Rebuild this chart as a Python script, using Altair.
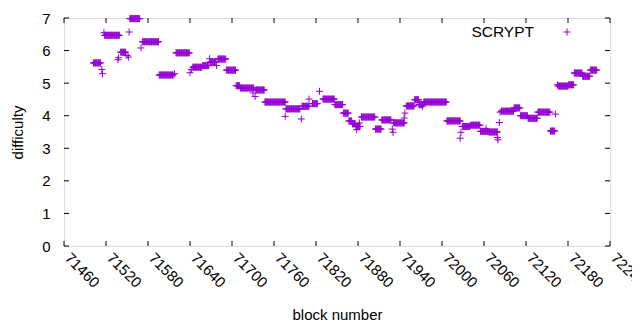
import altair as alt
import pandas as pd

# runs of constant difficulty: first block, last block, difficulty
run_start = [71502, 71518, 71541, 71554, 71572, 71596, 71620, 71644, 71658, 71669,
             71680, 71692, 71706, 71712, 71734, 71747, 71777, 71800, 71815, 71830,
             71847, 71859, 71867, 71872, 71877, 71885, 71905, 71914, 71931, 71949,
             71961, 71967, 71974, 72007, 72029, 72041, 72055, 72067, 72085, 72103,
             72112, 72123, 72137, 72155, 72166, 72181, 72189, 72201, 72212]
run_end = [71512, 71539, 71548, 71568, 71595, 71616, 71639, 71657, 71667, 71677,
           71691, 71705, 71711, 71731, 71746, 71776, 71797, 71810, 71822, 71846,
           71858, 71866, 71871, 71876, 71883, 71904, 71913, 71927, 71946, 71960,
           71966, 71973, 72006, 72026, 72040, 72054, 72066, 72079, 72102, 72111,
           72122, 72136, 72154, 72161, 72180, 72188, 72200, 72211, 72221]
run_diff = [5.62, 6.47, 5.95, 6.98, 6.27, 5.25, 5.93, 5.49, 5.54, 5.65,
            5.74, 5.40, 4.92, 4.85, 4.79, 4.42, 4.21, 4.29, 4.37, 4.51,
            4.34, 4.08, 3.84, 3.75, 3.67, 3.96, 3.59, 3.87, 3.78, 4.30,
            4.49, 4.34, 4.42, 3.84, 3.67, 3.71, 3.52, 3.50, 4.14, 4.24,
            4.00, 3.92, 4.11, 3.53, 4.91, 4.95, 5.31, 5.21, 5.40]

# isolated blocks
single_block = [71514, 71515, 71517, 71537, 71538, 71550, 71552, 71553, 71570, 71618,
                71640, 71642, 71668, 71678, 71730, 71733, 71776, 71799, 71810, 71825,
                71878, 71882, 71929, 71930, 71946, 71947, 71966, 71972, 72026, 72027,
                72063, 72079, 72080, 72082, 72083, 72162, 72165]
single_diff = [5.42, 5.29, 6.55, 5.72, 5.78, 5.85, 5.80, 6.57, 6.08, 5.29,
               5.32, 5.42, 5.75, 5.54, 4.70, 4.59, 3.98, 3.90, 4.51, 4.75,
               3.57, 3.78, 3.59, 3.49, 3.93, 4.08, 4.49, 4.29, 3.31, 3.49,
               3.60, 3.33, 3.26, 3.79, 4.11, 4.05, 4.95]

x_ticks = [71460, 71520, 71580, 71640, 71700, 71760, 71820, 71880, 71940,
           72000, 72060, 72120, 72180, 72240]
y_ticks = [0, 1, 2, 3, 4, 5, 6, 7]
series_name = "SCRYPT"

rows = []
for s, e, d in zip(run_start, run_end, run_diff):
    for b in range(s, e + 1):
        rows.append({"block": b, "difficulty": d})
for b, d in zip(single_block, single_diff):
    rows.append({"block": b, "difficulty": d})
df = pd.DataFrame(rows)

W, H = 546, 228
FONT = "Liberation Sans"
PURPLE = "#9400D3"
PLUS = "M-1,0L1,0M0,-1L0,1"

xscale = alt.Scale(domain=[71460, 72240], nice=False, zero=False)
yscale = alt.Scale(domain=[0, 7], nice=False, zero=True)

x_axis = alt.Axis(values=x_ticks, ticks=False, domain=False, grid=False,
                  labelAngle=45, labelAlign="left", labelBaseline="middle",
                  labelPadding=9, labelOffset=3, labelFont=FONT, labelFontSize=15,
                  labelColor="#000", labelOverlap=False, format="d",
                  titleFont=FONT, titleFontSize=15, titleFontWeight="normal",
                  titleColor="#000", titlePadding=17)
y_axis = alt.Axis(values=y_ticks, ticks=False, domain=False, grid=False,
                  labelPadding=14, labelFont=FONT, labelFontSize=15,
                  labelColor="#000", format="d",
                  titleFont=FONT, titleFontSize=15, titleFontWeight="normal",
                  titleColor="#000", titlePadding=16)

points = alt.Chart(df).mark_point(
    shape=PLUS, size=49, filled=False, stroke=PURPLE, strokeWidth=1, opacity=1
).encode(
    x=alt.X("block:Q", scale=xscale, title="block number", axis=x_axis),
    y=alt.Y("difficulty:Q", scale=yscale, title="difficulty", axis=y_axis),
)

xt = pd.DataFrame({"t": x_ticks})
yt = pd.DataFrame({"t": y_ticks})

xb = alt.Chart(xt).mark_rule(color="#000", strokeWidth=1).encode(
    x=alt.X("t:Q", scale=xscale, title="block number", axis=x_axis),
    y=alt.value(H), y2=alt.value(H - 5))
xtp = alt.Chart(xt).mark_rule(color="#000", strokeWidth=1).encode(
    x=alt.X("t:Q", scale=xscale, title="block number", axis=x_axis),
    y=alt.value(0), y2=alt.value(5))
yl = alt.Chart(yt).mark_rule(color="#000", strokeWidth=1).encode(
    y=alt.Y("t:Q", scale=yscale, title="difficulty", axis=y_axis),
    x=alt.value(0), x2=alt.value(5))
yr = alt.Chart(yt).mark_rule(color="#000", strokeWidth=1).encode(
    y=alt.Y("t:Q", scale=yscale, title="difficulty", axis=y_axis),
    x=alt.value(W - 5), x2=alt.value(W))

leg = pd.DataFrame({"name": [series_name]})
leg_text = alt.Chart(leg).mark_text(
    align="right", baseline="middle", font=FONT, fontSize=15.5, color="#000"
).encode(text="name:N", x=alt.value(470), y=alt.value(14))
leg_pt = alt.Chart(leg).mark_point(
    shape=PLUS, size=49, filled=False, stroke=PURPLE, strokeWidth=1, opacity=1
).encode(x=alt.value(503), y=alt.value(14))

chart = alt.layer(points, xb, xtp, yl, yr, leg_text, leg_pt).properties(
    width=W, height=H,
    autosize=alt.AutoSizeParams(type="none"),
    padding={"left": 56, "top": 10, "right": 22, "bottom": 76},
).configure_view(stroke="#000", strokeWidth=1).configure(background="white")

chart.save("out.html", embed_options={"renderer": "svg", "actions": False})
